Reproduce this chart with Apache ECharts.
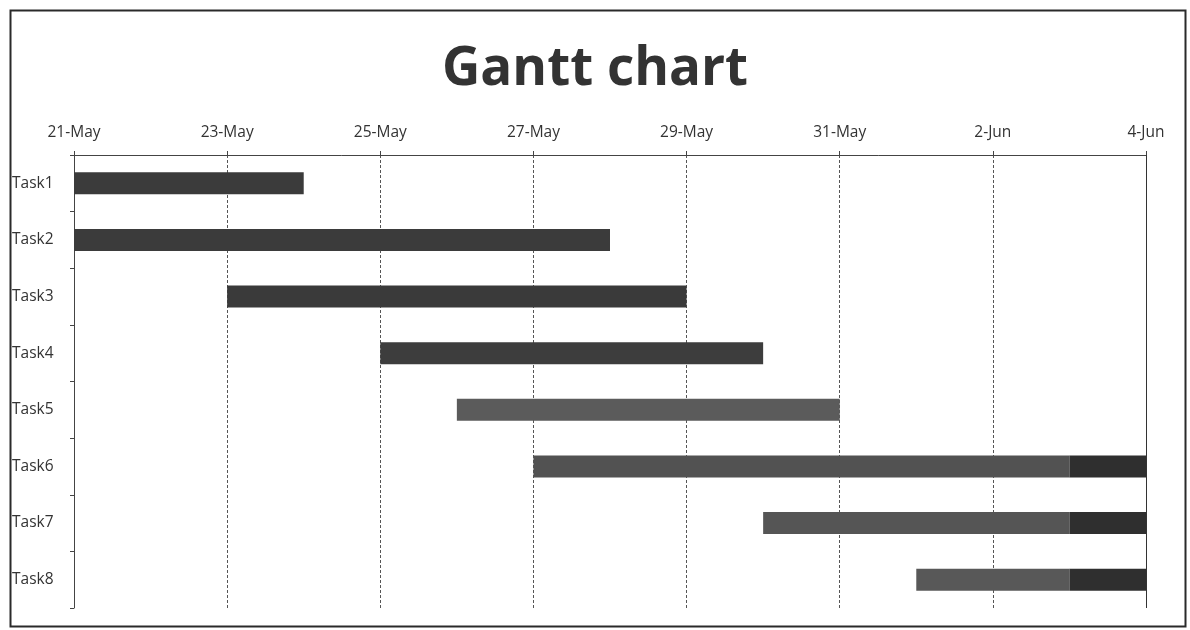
<!DOCTYPE html>
<html>
<head>
<meta charset="utf-8">
<script src="https://cdn.jsdelivr.net/npm/echarts@6/dist/echarts.min.js"></script>
<style>html,body{margin:0;padding:0;background:#fff}#c{width:1190px;height:630px}</style>
</head>
<body>
<div id="c"></div>
<script>
// ---- data ----
const tasks = ['Task1','Task2','Task3','Task4','Task5','Task6','Task7','Task8'];
const startDates = ['2024-05-21','2024-05-21','2024-05-23','2024-05-25','2024-05-26','2024-05-27','2024-05-30','2024-06-01'];
const endDates   = ['2024-05-24','2024-05-28','2024-05-29','2024-05-30','2024-05-31','2024-06-04','2024-06-04','2024-06-04'];
const axisStart = '2024-05-21';
const axisEnd = '2024-06-04';
const shadeFrom = '2024-06-03'; // darker tail portion of the bars
const monthNames = ['Jan','Feb','Mar','Apr','May','Jun','Jul','Aug','Sep','Oct','Nov','Dec'];

// ---- helpers ----
const DAY = 86400000;
const t0 = Date.parse(axisStart + 'T00:00:00Z');
const dayOf = s => Math.round((Date.parse(s + 'T00:00:00Z') - t0) / DAY);
const maxDay = dayOf(axisEnd);
const cut = dayOf(shadeFrom);
const offsets = startDates.map(dayOf);
const ends = endDates.map(dayOf);
const mainPart = offsets.map((s, i) => Math.min(ends[i], Math.max(cut, s)) - s);
const tailPart = offsets.map((s, i) => Math.max(0, ends[i] - Math.max(cut, s)));

// styles
const mainColors = ['#3b3b3b','#3b3b3b','#3a3a3a','#3d3d3d','#5b5b5b','#525252','#555555','#585858'];
const tailColor = '#2f2f2f';
const FONT = '"Open Sans", "Liberation Sans", sans-serif';

const chart = echarts.init(document.getElementById('c'), null, {renderer: 'canvas'});
chart.setOption({
  animation: false,
  backgroundColor: '#fff',
  title: {
    text: 'Gantt chart',
    left: 'center',
    top: 38,
    textStyle: {fontFamily: FONT, fontWeight: 'bold', fontSize: 53, color: '#333'}
  },
  graphic: [{
    type: 'rect', left: 8, top: 8, z: -1,
    shape: {width: 1175, height: 616},
    style: {fill: 'none', stroke: '#2a2a2a', lineWidth: 2}
  }],
  grid: {left: 74, right: 44, top: 155, bottom: 22},
  xAxis: {
    type: 'value',
    position: 'top',
    min: 0, max: maxDay, interval: 2,
    axisLine: {show: true, lineStyle: {color: '#444', width: 1}},
    axisTick: {show: true, length: 4, lineStyle: {color: '#444'}},
    axisLabel: {
      margin: 14, fontFamily: FONT, fontSize: 15.5, color: '#333',
      formatter: v => { const d = new Date(t0 + v * DAY); return d.getUTCDate() + '-' + monthNames[d.getUTCMonth()]; }
    },
    splitLine: {show: true, lineStyle: {color: '#555', type: [3, 2], width: 1}}
  },
  yAxis: {
    type: 'category',
    data: tasks,
    inverse: true,
    axisLine: {show: true, lineStyle: {color: '#444', width: 1}},
    axisTick: {show: true, length: 4, lineStyle: {color: '#444'}},
    axisLabel: {align: 'left', margin: 62, fontFamily: FONT, fontSize: 15.5, color: '#333'}
  },
  series: [
    {
      type: 'bar', stack: 'g', barWidth: 22, silent: true,
      itemStyle: {color: 'transparent'},
      data: offsets
    },
    {
      type: 'bar', stack: 'g', barWidth: 22,
      data: mainPart.map((v, i) => ({value: v, itemStyle: {color: mainColors[i]}})),
      markLine: {
        silent: true, symbol: 'none', label: {show: false},
        lineStyle: {color: '#333', type: 'solid', width: 1},
        data: [{xAxis: maxDay}]
      }
    },
    {
      type: 'bar', stack: 'g', barWidth: 22,
      itemStyle: {color: tailColor},
      data: tailPart
    }
  ]
});
</script>
</body>
</html>
